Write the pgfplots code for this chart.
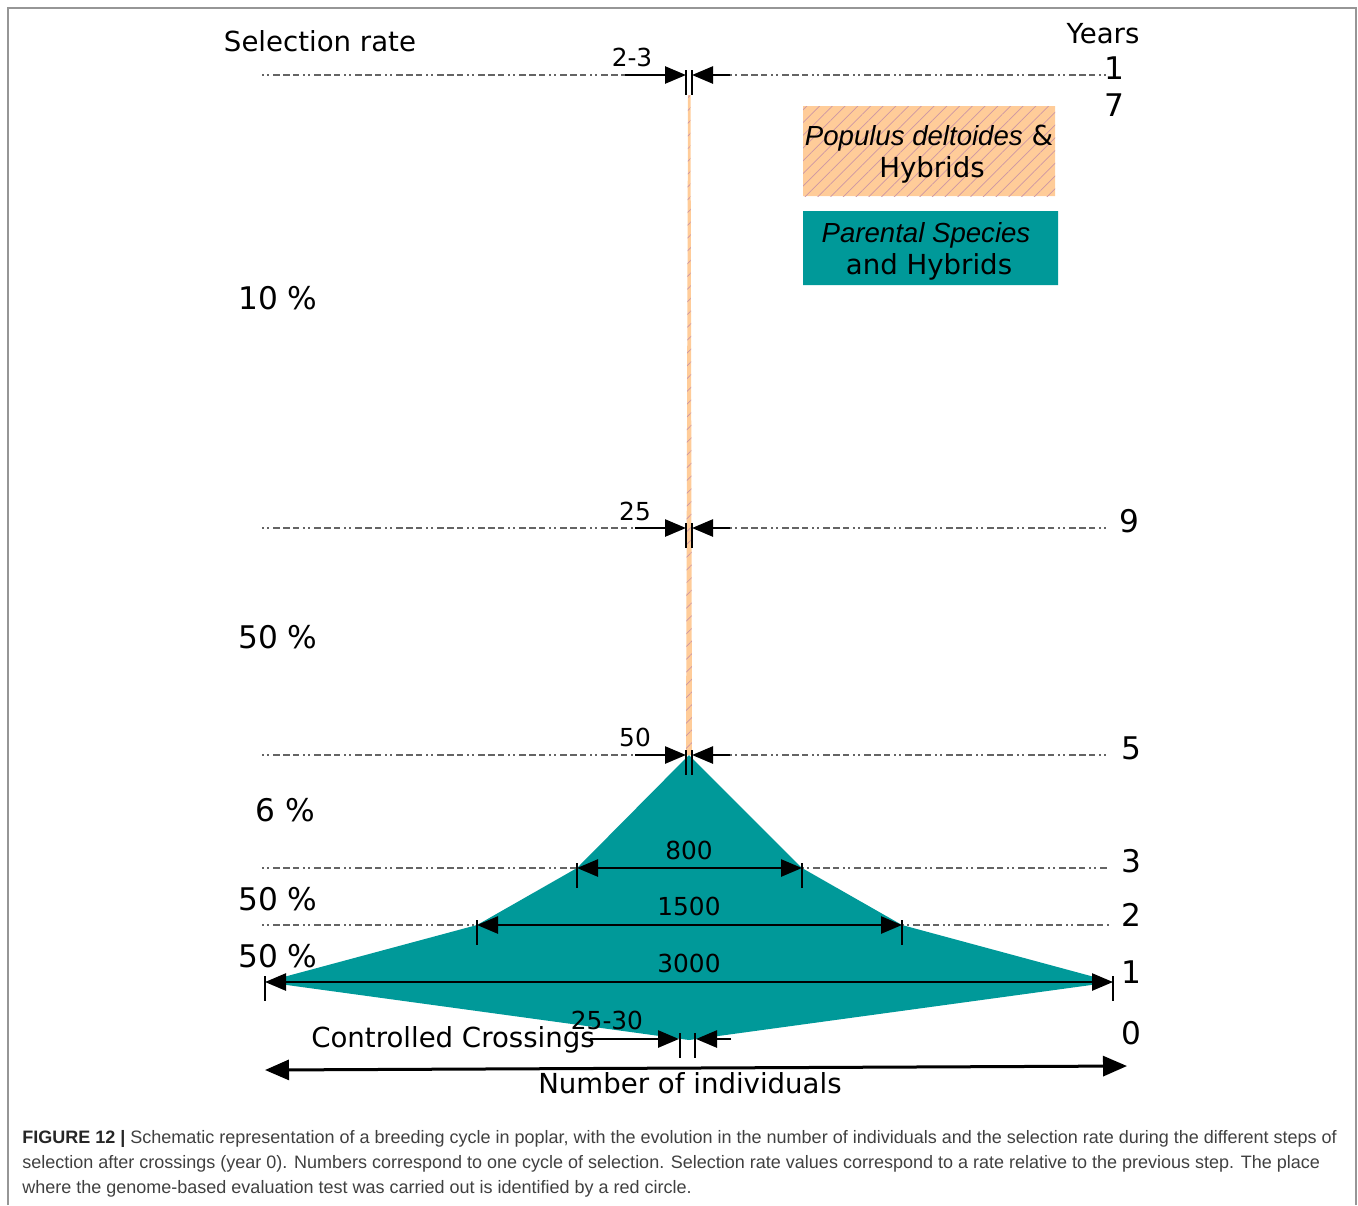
\documentclass[border=0pt]{standalone}
\usepackage{pgfplots}
\pgfplotsset{compat=1.18}
\usetikzlibrary{arrows.meta,patterns.meta}
\usepackage{fontspec}
\setmainfont{DejaVu Sans}
\newfontfamily\arialfont{Liberation Sans}
\newfontfamily\capfont{Liberation Sans}
\definecolor{tealc}{RGB}{0,153,153}
\definecolor{peach}{RGB}{255,204,153}
\definecolor{hatch}{RGB}{205,150,165}
\definecolor{dashgray}{RGB}{100,100,100}
\definecolor{framegray}{RGB}{150,150,150}
\definecolor{captext}{RGB}{64,64,64}
\newcommand{\fa}{\fontsize{13.8}{16}\selectfont}
\newcommand{\fb}{\fontsize{15.6}{18}\selectfont}
\newcommand{\fc}{\fontsize{12.4}{15}\selectfont}
\newcommand{\fcap}{\capfont\fontsize{9.0}{11}\selectfont}
\begin{document}
\begin{tikzpicture}
\begin{axis}[
  width=679pt, height=602.5pt, scale only axis,
  xmin=0, xmax=1358, ymin=0, ymax=1205, y dir=reverse,
  hide axis, clip=false,
  dd/.style={draw=dashgray, line width=1.3pt, dash pattern=on 1pt off 1.5pt on 1pt off 2pt on 3.5pt off 1.5pt on 3.5pt off 1.5pt on 3pt off 2pt},
  arr/.style={draw=black, line width=1.3pt, -{Triangle[length=10.5pt,width=8.5pt]}},
  darr/.style={draw=black, line width=1.3pt, {Triangle[length=10.5pt,width=8.5pt]}-{Triangle[length=10.5pt,width=8.5pt]}},
  tk/.style={draw=black, line width=1.3pt},
]
% invisible extent of the whole figure
\addplot[draw=none] coordinates {(0,0) (1358,1205)};
% frame
\addplot[draw=framegray, line width=0.6pt] coordinates {(8,1205) (8,8) (1356,8) (1356,1205)};

% teal shape
\addplot[fill=tealc, draw=none] coordinates {(689,755) (577,868) (477,925) (265,982) (689,1040) (1113,982) (902,925) (802,868) (689,755)};

% orange band
\addplot[fill=peach, draw=none] coordinates {(688,95) (690.5,95) (692,755) (686,755) (688,95)};
\addplot[pattern={Lines[angle=45,distance=4.5pt,line width=0.35pt]}, pattern color=hatch, draw=none] coordinates {(688,95) (690.5,95) (692,755) (686,755) (688,95)};

% legend boxes
\addplot[fill=peach, draw=none] coordinates {(803,106) (1055,106) (1055,196) (803,196) (803,106)};
\addplot[pattern={Lines[angle=45,distance=4.5pt,line width=0.35pt]}, pattern color=hatch, draw=none] coordinates {(803,106) (1055,106) (1055,196) (803,196) (803,106)};
\addplot[fill=tealc, draw=none] coordinates {(803,211) (1058,211) (1058,285) (803,285) (803,211)};

% dash-dot lines
\addplot[dd] coordinates {(262,75) (625,75)};
\addplot[dd] coordinates {(730,75) (1110,75)};
\addplot[dd] coordinates {(262,528) (635,528)};
\addplot[dd] coordinates {(730,528) (1110,528)};
\addplot[dd] coordinates {(262,755) (635,755)};
\addplot[dd] coordinates {(730,755) (1110,755)};
\addplot[dd] coordinates {(262,868) (577,868)};
\addplot[dd] coordinates {(802,868) (1110,868)};
\addplot[dd] coordinates {(262,925) (477,925)};
\addplot[dd] coordinates {(902,925) (1110,925)};

% centre arrows at 75, 528, 755
\addplot[arr] coordinates {(625,75) (686,75)};
\addplot[arr] coordinates {(730,75) (692,75)};
\addplot[tk] coordinates {(686,70) (686,95)};
\addplot[tk] coordinates {(692,70) (692,95)};
\addplot[arr] coordinates {(635,528) (686,528)};
\addplot[arr] coordinates {(730,528) (692,528)};
\addplot[tk] coordinates {(686,523) (686,548)};
\addplot[tk] coordinates {(692,523) (692,548)};
\addplot[arr] coordinates {(635,755) (686,755)};
\addplot[arr] coordinates {(730,755) (692,755)};
\addplot[tk] coordinates {(686,750) (686,775)};
\addplot[tk] coordinates {(692,750) (692,775)};

% width arrows
\addplot[darr] coordinates {(577,868) (802,868)};
\addplot[tk] coordinates {(577,863) (577,888)};
\addplot[tk] coordinates {(802,863) (802,888)};
\addplot[darr] coordinates {(477,925) (902,925)};
\addplot[tk] coordinates {(477,920) (477,945)};
\addplot[tk] coordinates {(902,920) (902,945)};
\addplot[darr] coordinates {(265,982) (1113,982)};
\addplot[tk] coordinates {(265,976) (265,1001)};
\addplot[tk] coordinates {(1113,976) (1113,1001)};

% crossings
\addplot[arr] coordinates {(590,1039) (679,1039)};
\addplot[arr] coordinates {(731,1039) (696,1039)};
\addplot[tk] coordinates {(680,1033) (680,1058)};
\addplot[tk] coordinates {(695,1033) (695,1058)};

% number of individuals
\addplot[draw=black, line width=1.5pt, {Triangle[length=12pt,width=10pt]}-{Triangle[length=12pt,width=10pt]}] coordinates {(265,1070) (1127,1066)};

% texts
\node[anchor=base] at (axis cs:320,51) {\fa Selection rate};
\node[anchor=base] at (axis cs:1103,43) {\fa Years};
\node[anchor=base] at (axis cs:1114,79) {\fb 1};
\node[anchor=base] at (axis cs:1114,116) {\fb 7};
\node[anchor=base] at (axis cs:1129,532) {\fb 9};
\node[anchor=base] at (axis cs:1131,759) {\fb 5};
\node[anchor=base] at (axis cs:1131,872) {\fb 3};
\node[anchor=base] at (axis cs:1131,926) {\fb 2};
\node[anchor=base] at (axis cs:1131,983) {\fb 1};
\node[anchor=base] at (axis cs:1131,1044) {\fb 0};

\node[anchor=base] at (axis cs:278,309) {\fb 10 \%};
\node[anchor=base] at (axis cs:278,648) {\fb 50 \%};
\node[anchor=base] at (axis cs:285,821) {\fb 6 \%};
\node[anchor=base] at (axis cs:278,910) {\fb 50 \%};
\node[anchor=base] at (axis cs:278,967) {\fb 50 \%};

\node[anchor=base] at (axis cs:632,66) {\fc 2-3};
\node[anchor=base] at (axis cs:635,520) {\fc 25};
\node[anchor=base] at (axis cs:635,746) {\fc 50};
\node[anchor=base] at (axis cs:689,859) {\fc 800};
\node[anchor=base] at (axis cs:689,915) {\fc 1500};
\node[anchor=base] at (axis cs:689,972) {\fc 3000};
\node[anchor=base] at (axis cs:607,1029) {\fc 25-30};

\node[anchor=base] at (axis cs:453,1047) {\fa Controlled Crossings};
\node[anchor=base] at (axis cs:690,1093) {\fa Number of individuals};

\node[anchor=base] at (axis cs:929,145) {\fa{\arialfont\itshape Populus deltoides} \&};
\node[anchor=base] at (axis cs:932,177) {\fa Hybrids};
\node[anchor=base] at (axis cs:926,242) {\fa{\arialfont\itshape Parental Species}};
\node[anchor=base] at (axis cs:929,274) {\fa and Hybrids};

% caption
\node[anchor=base west, inner sep=0pt, text=captext] at (axis cs:22,1143) {\fcap {\color{black!85}\bfseries FIGURE 12 |} Schematic representation of a breeding cycle in poplar, with the evolution in the number of individuals and the selection rate during the different steps of};
\node[anchor=base west, inner sep=0pt, text=captext] at (axis cs:22,1168) {\fcap selection after crossings (year 0). Numbers correspond to one cycle of selection. Selection rate values correspond to a rate relative to the previous step. The place};
\node[anchor=base west, inner sep=0pt, text=captext] at (axis cs:22,1193) {\fcap where the genome-based evaluation test was carried out is identified by a red circle.};
\end{axis}
\end{tikzpicture}
\end{document}
